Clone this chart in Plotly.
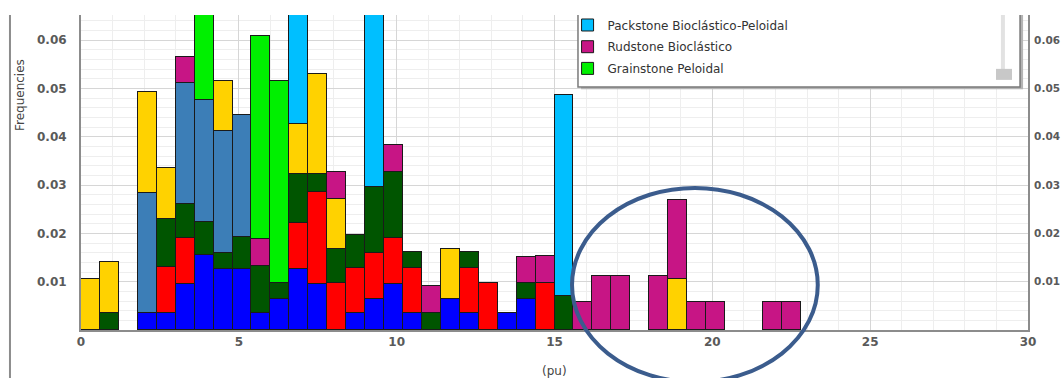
import numpy as np
import plotly.graph_objects as go

# Porosity histogram (pu), bins of 0.6 starting at 0, stacked by facies
BIN_WIDTH = 0.6
N_BINS = 38
bin_left = np.arange(N_BINS) * BIN_WIDTH
bin_center = bin_left + BIN_WIDTH / 2


def series(entries):
    vals = [None] * N_BINS
    for i, v in entries.items():
        vals[i] = v
    return vals


# frequency contributed by each facies in each bin (bin index -> value)
facies_a = series({3: 0.0035, 4: 0.0035, 5: 0.0095, 6: 0.0155, 7: 0.0126, 8: 0.0126,
                   9: 0.0035, 10: 0.0064, 11: 0.0126, 12: 0.0095, 14: 0.0035, 15: 0.0064,
                   16: 0.0095, 17: 0.0035, 19: 0.0064, 20: 0.0035, 22: 0.0035, 23: 0.0064})
facies_b = series({4: 0.0095, 5: 0.0096, 11: 0.0095, 12: 0.0191, 13: 0.0098, 14: 0.0094,
                   15: 0.0095, 16: 0.0096, 17: 0.0094, 20: 0.0094, 21: 0.0098, 24: 0.0098})
facies_c = series({1: 0.0036, 4: 0.0100, 5: 0.0069, 6: 0.0069, 7: 0.0033, 8: 0.0067,
                   9: 0.0098, 10: 0.0033, 11: 0.0101, 12: 0.0036, 13: 0.0069, 14: 0.0068,
                   15: 0.0138, 16: 0.0136, 17: 0.0033, 18: 0.0035, 20: 0.0033, 23: 0.0033,
                   25: 0.0070})
facies_d = series({3: 0.0249, 5: 0.0251, 6: 0.0252, 7: 0.0252, 8: 0.0252})
facies_e = series({0: 0.0105, 1: 0.0104, 3: 0.0208, 4: 0.0105, 7: 0.0105, 11: 0.0104,
                   12: 0.0208, 13: 0.0104, 19: 0.0103, 31: 0.0105})
rudstone = series({5: 0.0054, 9: 0.0055, 13: 0.0056, 16: 0.0055, 18: 0.0056, 23: 0.0055,
                   24: 0.0056, 26: 0.0057, 27: 0.0112, 28: 0.0112, 30: 0.0112, 31: 0.0164,
                   32: 0.0057, 33: 0.0057, 36: 0.0057, 37: 0.0057})
grainstone = series({6: 0.0420, 9: 0.0421, 10: 0.0419})
packstone = series({11: 0.0416, 15: 0.0416, 25: 0.0416})

# stacking order, bottom to top: (name, values, colour, shown in legend, legend rank)
layers = [
    ("Fácies A", facies_a, "#0000FF", False, 10),
    ("Fácies B", facies_b, "#FF0000", False, 11),
    ("Fácies C", facies_c, "#005500", False, 12),
    ("Fácies D", facies_d, "#3C7EB7", False, 13),
    ("Fácies E", facies_e, "#FFD200", False, 14),
    ("Rudstone Bioclástico", rudstone, "#C71585", True, 2),
    ("Grainstone Peloidal", grainstone, "#00F000", True, 3),
    ("Packstone Bioclástico-Peloidal", packstone, "#00BFFF", True, 1),
]

Y_MAX = 0.0652
y_ticks = [0.01, 0.02, 0.03, 0.04, 0.05, 0.06]
x_ticks = [0, 5, 10, 15, 20, 25, 30]

fig = go.Figure()
for name, vals, color, show, rank in layers:
    fig.add_trace(go.Bar(
        x=bin_center, y=vals, width=BIN_WIDTH, name=name,
        marker=dict(color=color, line=dict(color="#1a1a1a", width=1)),
        showlegend=show, legendrank=rank, legendgroup=name,
    ))

# empty trace so the mirrored frequency axis on the right is rendered
fig.add_trace(go.Scatter(x=[], y=[], yaxis="y2", showlegend=False, hoverinfo="skip"))

tick_font = dict(family="DejaVu Sans", size=12, color="#5a5a5a", weight="bold")
right_tick_font = dict(family="DejaVu Sans", size=10.5, color="#5a5a5a", weight="bold")
axis_line = "#8c8c8c"

fig.update_layout(
    width=1062, height=378,
    margin=dict(l=81, r=34, t=15, b=48, autoexpand=False),
    paper_bgcolor="white", plot_bgcolor="white",
    barmode="stack", bargap=0,
    font=dict(family="DejaVu Sans", size=12, color="#333"),
    xaxis=dict(
        range=[0, 30], tickvals=x_ticks, ticks="", tickfont=tick_font, automargin=False,
        showgrid=True, gridcolor="#d6d6d6", gridwidth=1,
        minor=dict(dtick=1, showgrid=True, gridcolor="#eeeeee", gridwidth=1),
        showline=True, linecolor=axis_line, linewidth=2, zeroline=False,
    ),
    yaxis=dict(
        range=[0, Y_MAX], tickvals=y_ticks, tickformat=".2f", ticks="",
        tickfont=tick_font, ticklabelstandoff=10, automargin=False,
        showgrid=True, gridcolor="#d6d6d6", gridwidth=1,
        minor=dict(dtick=0.002, tick0=0, showgrid=True, gridcolor="#eeeeee", gridwidth=1),
        showline=True, linecolor=axis_line, linewidth=2, zeroline=False,
    ),
    yaxis2=dict(
        range=[0, Y_MAX], tickvals=y_ticks, tickformat=".2f", ticks="",
        tickfont=right_tick_font, ticklabelstandoff=2, automargin=False,
        overlaying="y", side="right", showgrid=False,
        showline=True, linecolor=axis_line, linewidth=2, zeroline=False,
    ),
    legend=dict(
        x=0.5138, xanchor="left", y=1.0143, yanchor="top",
        bgcolor="rgba(0,0,0,0)", borderwidth=0,
        font=dict(family="DejaVu Sans", size=12, color="#333"),
        traceorder="grouped", tracegroupgap=2.7,
    ),
    showlegend=True,
)

# legend panel: shadow, box and its scroll bar
shapes = [
    dict(type="rect", xref="paper", yref="paper", x0=0.528, x1=0.9948, y0=0.764, y1=1.06,
         fillcolor="#b4b4b4", line=dict(width=0), layer="above"),
    dict(type="rect", xref="paper", yref="paper", x0=0.5248, x1=0.9916, y0=0.7714, y1=1.06,
         fillcolor="white", line=dict(color="#7a7a7a", width=1.5), layer="above"),
    dict(type="line", xref="paper", yref="paper", x0=0.9735, x1=0.9735, y0=0.82, y1=1.0,
         line=dict(color="#e2e2e2", width=4), layer="above"),
    dict(type="rect", xref="paper", yref="paper", x0=0.9662, x1=0.9831, y0=0.794, y1=0.829,
         fillcolor="#c8c8c8", line=dict(width=0), layer="above"),
    # blank strip above the plotting area
    dict(type="rect", xref="paper", yref="paper", x0=-0.1, x1=1.1, y0=1.0, y1=1.1,
         fillcolor="white", line=dict(width=0), layer="above"),
    # highlighted region around the high-porosity Rudstone bins
    dict(type="circle", xref="paper", yref="paper", x0=0.5185, x1=0.778, y0=-0.165, y1=0.451,
         line=dict(color="#3B5C8D", width=4), layer="above"),
    # left frame border
    dict(type="line", xref="paper", yref="paper", x0=-0.075, x1=-0.075, y0=-0.2, y1=1.0,
         line=dict(color="#8c8c8c", width=2)),
]
fig.update_layout(shapes=shapes)

fig.add_annotation(text="Frequencies", xref="paper", yref="paper", x=-0.0644, y=0.746,
                   textangle=-90, showarrow=False, font=dict(size=12, color="#444"),
                   xanchor="center", yanchor="middle")
fig.add_annotation(text="(pu)", xref="paper", yref="paper", x=0.5, y=-0.13,
                   showarrow=False, font=dict(size=12, color="#444"),
                   xanchor="center", yanchor="middle")

fig.write_html("out.html")
